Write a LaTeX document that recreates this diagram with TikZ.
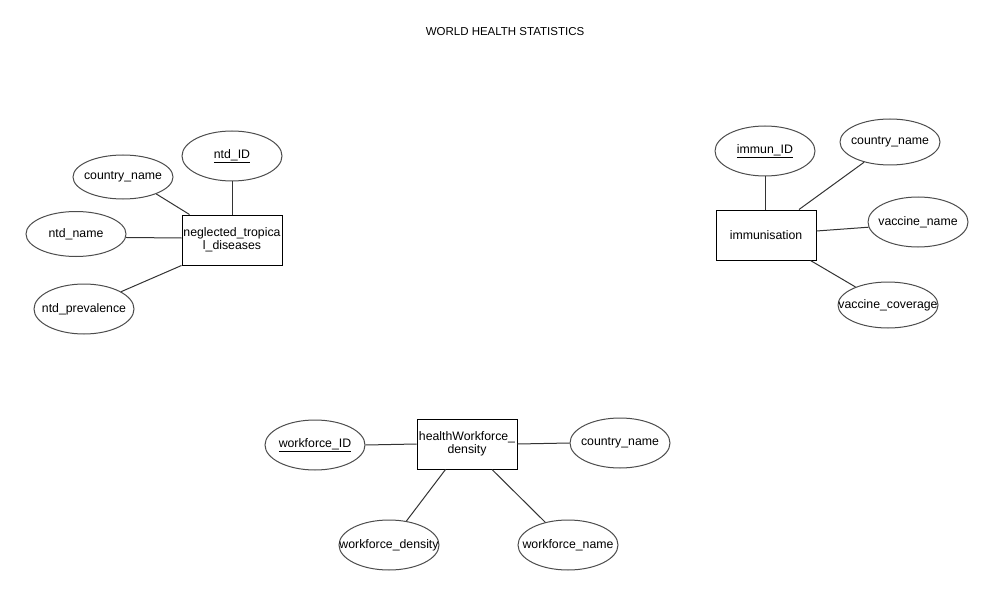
\documentclass[tikz,border=0pt]{standalone}
\usepackage{fontspec}
\setmainfont{Liberation Sans}
\usetikzlibrary{shapes.geometric,calc}
\newcommand\zw[1]{\makebox[0pt]{#1}}
\begin{document}
\begin{tikzpicture}[x=1pt,y=-1pt,
  every node/.style={font=\fontsize{12.3}{13.5}\selectfont},
  attr/.style={ellipse,draw=black!70,line width=1pt,minimum width=100pt,minimum height=50pt,inner sep=0pt},
  entity/.style={rectangle,draw=black,line width=1pt,minimum width=100pt,minimum height=50pt,inner sep=0pt,align=center},
  link/.style={draw=black!80,line width=1pt}]
\fill[white] (0,0) rectangle (995,596);
\useasboundingbox (0,0) rectangle (995,596);
\node[font=\fontsize{11.5}{13}\selectfont] (title) at (505,32) {WORLD HEALTH STATISTICS};
% left group
\node[entity] (e1) at (232,240) {neglected\_tropica\\l\_diseases};
\node[attr] (ntdid) at (232,156) {\zw{\underline{ntd\_ID}}};
\node[attr,minimum height=44pt] (cn1) at (123,177) {\zw{country\_name}};
\node[attr,minimum height=45pt] (ntdname) at (76,234) {\zw{ntd\_name}};
\node[attr] (ntdprev) at (84,309) {\zw{ntd\_prevalence}};
\draw[link] (ntdid) -- (e1);
\draw[link] (cn1.-27) -- ($(e1.north west)+(8,0)$);
\draw[link] (ntdname.-4) -- ($(e1.west)+(0,-2)$);
\draw[link] (ntdprev.25) -- (e1.south west);
% right group
\node[entity] (e2) at (766,235) {immunisation};
\node[attr] (immunid) at (765,151) {\zw{\underline{immun\_ID}}};
\node[attr,minimum height=46pt] (cn2) at (890,142) {\zw{country\_name}};
\node[attr] (vname) at (918,222) {\zw{vaccine\_name}};
\node[attr,minimum height=46pt] (vcov) at (888,305) {\zw{vaccine\_coverage}};
\draw[link] (immunid) -- (immunid |- e2.north);
\draw[link] (cn2.-142) -- ($(e2.north)+(33,0)$);
\draw[link] (vname.-174) -- ($(e2.east)+(0,-4)$);
\draw[link] (vcov.151) -- ($(e2.south east)+(-6,0)$);
% bottom group
\node[entity] (e3) at (467,444) {healthWorkforce\_\\density};
\node[attr] (wid) at (315,445) {\zw{\underline{workforce\_ID}}};
\node[attr] (cn3) at (620,443) {\zw{country\_name}};
\node[attr] (wden) at (389,545) {\zw{workforce\_density}};
\node[attr] (wname) at (568,545) {\zw{workforce\_name}};
\draw[link] (wid.east) -- (e3.west);
\draw[link] (e3.east) -- (cn3.west);
\draw[link] (wden.54) -- ($(e3.south west)+(29,0)$);
\draw[link] (wname.135) -- ($(e3.south)+(25,0)$);
\end{tikzpicture}
\end{document}
